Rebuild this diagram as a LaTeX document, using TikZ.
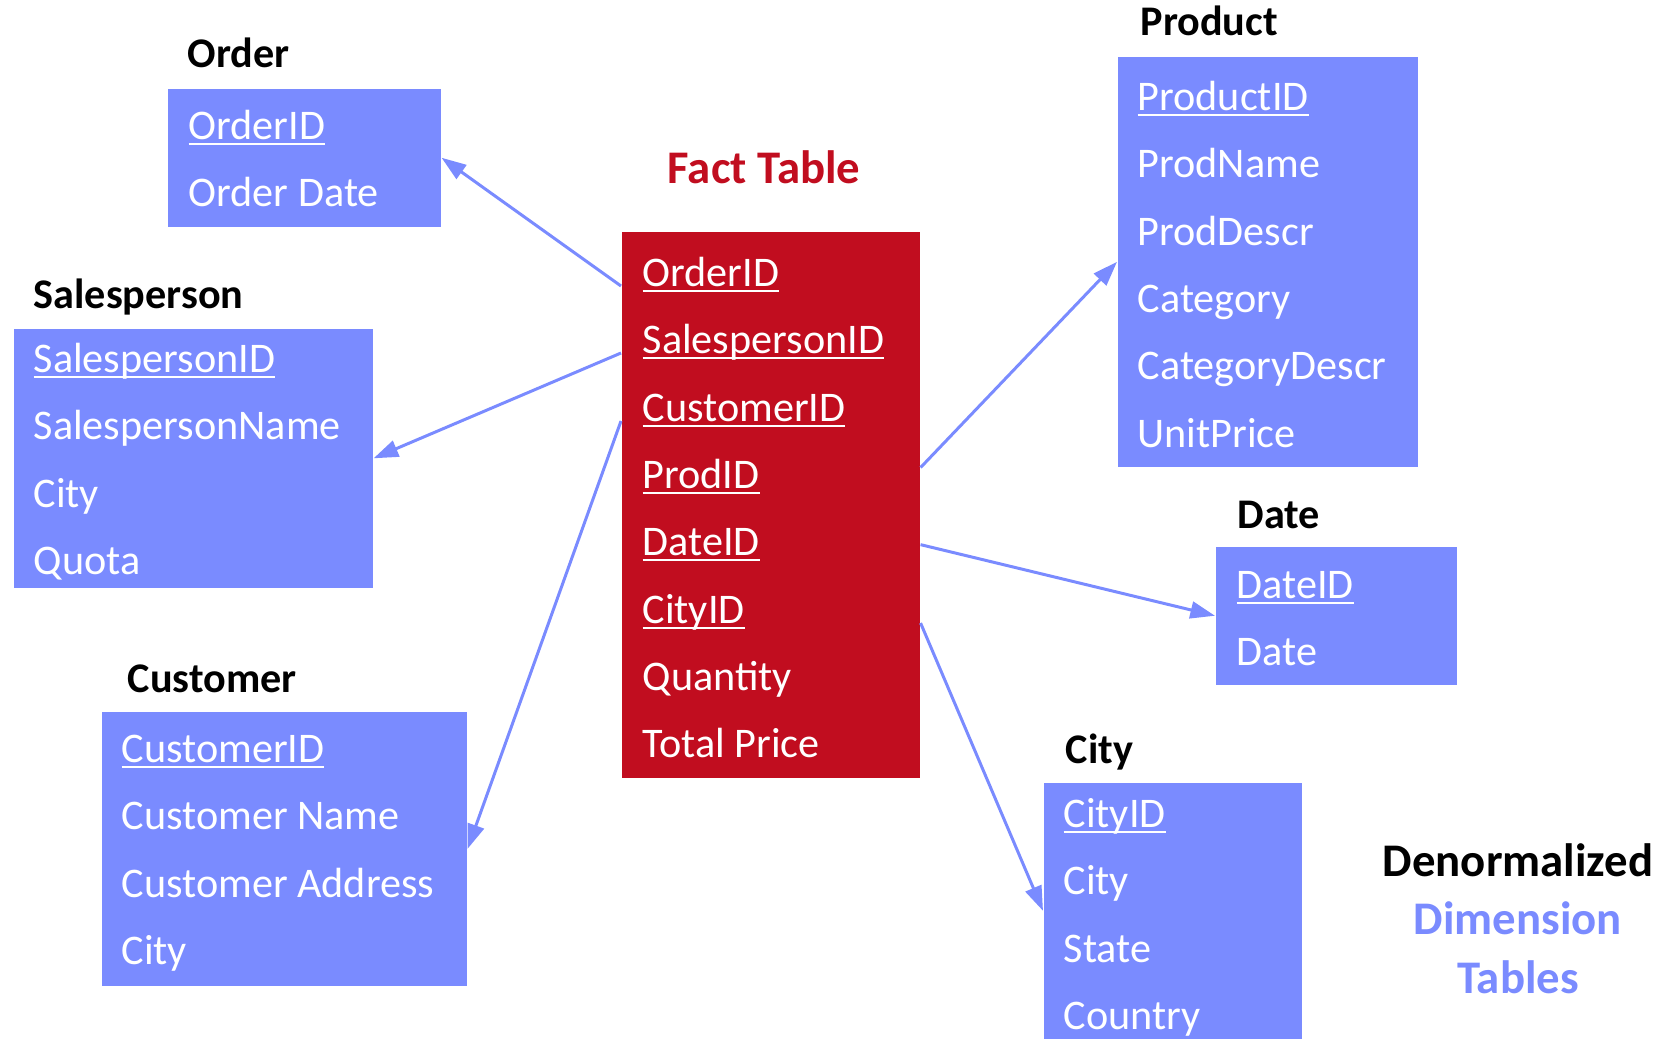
\documentclass[tikz,border=0pt]{standalone}
\usepackage{fontspec}
\setmainfont{Carlito}
\usetikzlibrary{arrows.meta,calc}
\definecolor{dimblue}{RGB}{122,139,255}
\definecolor{factred}{RGB}{193,13,31}
\newsavebox{\keybox}
\newcommand{\key}[1]{\sbox{\keybox}{#1}\rlap{\rule[-1.8pt]{\wd\keybox}{0.55pt}}\usebox{\keybox}}

\begin{document}
\begin{tikzpicture}[x=0.01cm,y=-0.01cm,
    tbl/.style={fill=dimblue,anchor=north west,inner sep=0pt},
    fld/.style={anchor=base west,inner sep=0pt,text=white,font=\fontsize{12}{14}\selectfont},
    ttl/.style={anchor=base west,inner sep=0pt,font=\fontsize{12}{14}\selectfont\bfseries},
    link/.style={draw=dimblue,line width=0.85pt,-{Triangle[length=7pt,width=4.8pt]}}]
  \useasboundingbox (0,0) rectangle (1665,1038);

  % fact table
  \node[tbl,fill=factred,minimum width=2.98cm,minimum height=5.46cm] (fact) at (621,231) {};
  \node[ttl,text=factred,font=\fontsize{13.3}{16}\selectfont\bfseries] (facttitle) at (667,183) {Fact Table};
  \node[fld] (f1) at (642,286) {\key{OrderID}};
  \node[fld] (f2) at (642,353) {\key{SalespersonID}};
  \node[fld] (f3) at (642,421) {\key{CustomerID}};
  \node[fld] (f4) at (642,488) {\key{ProdID}};
  \node[fld] (f5) at (642,555) {\key{DateID}};
  \node[fld] (f6) at (642,623) {\key{CityID}};
  \node[fld] (f7) at (642,690) {Quantity};
  \node[fld] (f8) at (642,757) {Total Price};

  % dimension tables
  \node[tbl,minimum width=2.73cm,minimum height=1.38cm] (order) at (167,88) {};
  \node[ttl] (ordertitle) at (187,67) {Order};
  \node[fld] (o1) at (188,139) {\key{OrderID}};
  \node[fld] (o2) at (188,206) {Order Date};

  \node[tbl,minimum width=3.59cm,minimum height=2.59cm] (sales) at (13,328) {};
  \node[ttl] (salestitle) at (33,308) {Salesperson};
  \node[fld] (s1) at (33,372) {\key{SalespersonID}};
  \node[fld] (s2) at (33,439) {SalespersonName};
  \node[fld] (s3) at (33,507) {City};
  \node[fld] (s4) at (33,574) {Quota};

  \node[tbl,minimum width=3.65cm,minimum height=2.74cm] (cust) at (101,711) {};
  \node[ttl] (custtitle) at (127,692) {Customer};
  \node[fld] (c1) at (121,762) {\key{CustomerID}};
  \node[fld] (c2) at (121,829) {Customer Name};
  \node[fld] (c3) at (121,897) {Customer Address};
  \node[fld] (c4) at (121,964) {City};

  \node[tbl,minimum width=3.00cm,minimum height=4.10cm] (prod) at (1117,56) {};
  \node[ttl] (prodtitle) at (1140,35) {Product};
  \node[fld] (p1) at (1137,110) {\key{ProductID}};
  \node[fld] (p2) at (1137,177) {ProdName};
  \node[fld] (p3) at (1137,245) {ProdDescr};
  \node[fld] (p4) at (1137,312) {Category};
  \node[fld] (p5) at (1137,379) {CategoryDescr};
  \node[fld] (p6) at (1137,447) {UnitPrice};

  \node[tbl,minimum width=2.41cm,minimum height=1.38cm] (date) at (1215,546) {};
  \node[ttl] (datetitle) at (1237,528) {Date};
  \node[fld] (d1) at (1236,598) {\key{DateID}};
  \node[fld] (d2) at (1236,665) {Date};

  \node[tbl,minimum width=2.58cm,minimum height=2.56cm] (city) at (1043,782) {};
  \node[ttl] (citytitle) at (1065,763) {City};
  \node[fld] (y1) at (1063,827) {\key{CityID}};
  \node[fld] (y2) at (1063,894) {City};
  \node[fld] (y3) at (1063,962) {State};
  \node[fld] (y4) at (1063,1029) {Country};

  \node[anchor=north,inner sep=0pt,align=center,font=\fontsize{13.3}{16.6}\selectfont\bfseries] (note) at (1518,843)
    {Denormalized\\\textcolor{dimblue}{Dimension}\\\textcolor{dimblue}{Tables}};

  % links
  \draw[link] (fact.west |- f1.base) -- (order.east);
  \draw[link] (fact.west |- f2.base) -- (sales.east);
  \draw[link] (fact.west |- f3.base) -- (cust.east);
  \draw[link] ($(fact.east |- f4)+(0,-9)$) -- (prod.west);
  \draw[link] (fact.east |- f5) -- (date.west);
  \draw[link] (fact.east |- f6.base) -- (city.west);
\end{tikzpicture}
\end{document}
